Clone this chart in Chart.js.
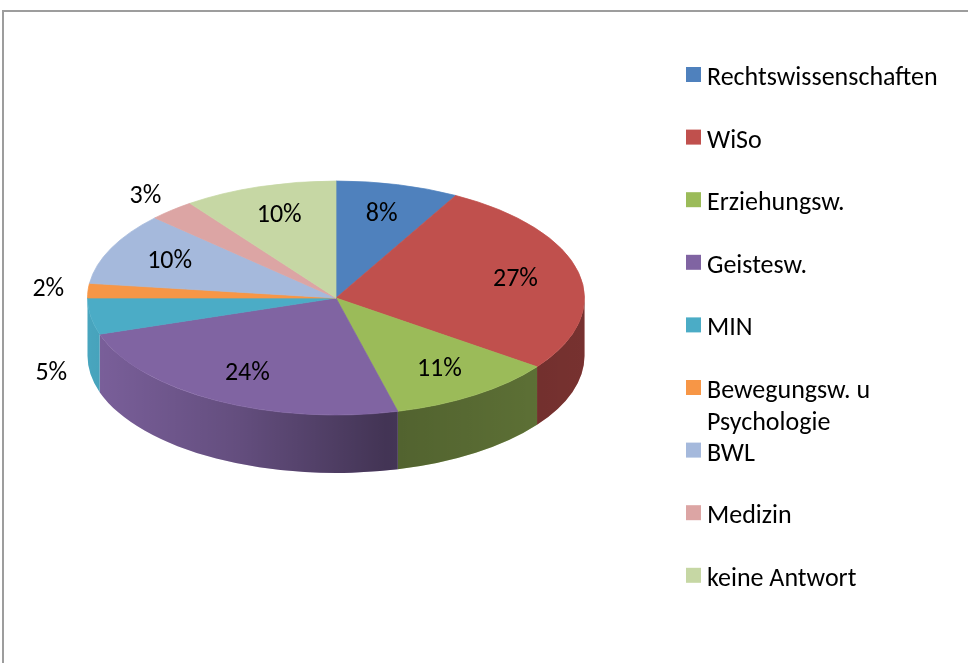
<!DOCTYPE html>
<html lang="de">
<head>
<meta charset="utf-8">
<title>Fakultäten</title>
<script src="https://cdn.jsdelivr.net/npm/chart.js@4/dist/chart.umd.min.js"></script>
<style>
  html, body { margin: 0; padding: 0; background: #fff; }
  canvas { display: block; }
</style>
</head>
<body>
<canvas id="faculty-chart" width="968" height="663"></canvas>
<script>
// Anteil der Befragten je Fakultät (in %)
const faculties = ['Rechtswissenschaften', 'WiSo', 'Erziehungsw.', 'Geistesw.', 'MIN',
    'Bewegungsw. u Psychologie', 'BWL', 'Medizin', 'keine Antwort'];
const shares = [8, 27, 11, 24, 5, 2, 10, 3, 10];
const sliceColors = ['#4f81bd', '#c0504d', '#9bbb59', '#8064a2', '#4bacc6',
    '#f79646', '#a5b9dc', '#dca5a4', '#c6d7a4'];

const FONT = '"Carlito", "Lato", sans-serif';

// Draws the pie as a tilted disc: side wall below, squashed top face, labels on top
const pie3d = {
    id: 'pie3d',
    beforeDraw(chart, args, opts) {
        const ctx = chart.ctx;
        ctx.save();
        ctx.strokeStyle = '#9d9d9d';
        ctx.lineWidth = 2;
        ctx.strokeRect(3, 11, 1000, 700);
        ctx.restore();
    },
    beforeDatasetsDraw(chart, args, opts) {
        const ctx = chart.ctx;
        const arcs = chart.getDatasetMeta(0).data;
        const cx = arcs[0].x;
        const r = arcs[0].outerRadius;
        const cy = opts.centerY, ry = opts.radiusY, depth = opts.depth;

        // front side wall, only the half that faces the viewer
        arcs.forEach(function(arc, i) {
            const a1 = Math.max(arc.startAngle, 0);
            const a2 = Math.min(arc.endAngle, Math.PI);
            if (a1 >= a2) return;
            ctx.beginPath();
            ctx.ellipse(cx, cy, r, ry, 0, a1, a2, false);
            ctx.lineTo(cx + r * Math.cos(a2), cy + ry * Math.sin(a2) + depth);
            ctx.ellipse(cx, cy + depth, r, ry, 0, a2, a1, true);
            ctx.closePath();
            ctx.fillStyle = sliceColors[i];
            ctx.fill();
            const shade = ctx.createLinearGradient(cx - r, 0, cx + r, 0);
            shade.addColorStop(0, 'rgba(0,0,0,0.04)');
            shade.addColorStop(0.3, 'rgba(0,0,0,0.22)');
            shade.addColorStop(0.6, 'rgba(0,0,0,0.48)');
            shade.addColorStop(1, 'rgba(0,0,0,0.38)');
            ctx.fillStyle = shade;
            ctx.fill();
        });

        // squash the round pie into the top face ellipse
        ctx.save();
        ctx.translate(0, cy);
        ctx.scale(1, ry / r);
        ctx.translate(0, -arcs[0].y);
    },
    afterDatasetsDraw(chart, args, opts) {
        const ctx = chart.ctx;
        ctx.restore();

        const arcs = chart.getDatasetMeta(0).data;
        const cx = arcs[0].x;
        const r = arcs[0].outerRadius;
        const cy = opts.centerY, ry = opts.radiusY, depth = opts.depth;

        ctx.save();
        ctx.font = opts.fontSize + 'px ' + FONT;
        ctx.fillStyle = '#000';
        ctx.textAlign = 'center';
        ctx.textBaseline = 'middle';
        arcs.forEach(function(arc, i) {
            const mid = (arc.startAngle + arc.endAngle) / 2;
            const outside = shares[i] < 8;
            const f = outside ? 1.16 : 0.74;
            let x = cx + r * f * Math.cos(mid);
            let y = cy + ry * f * Math.sin(mid);
            if (outside && Math.sin(mid) > 0) {
                y += depth * Math.min(1, Math.sin(mid) * 6);
            }
            ctx.fillText(shares[i] + '%', x, y);
        });
        ctx.restore();
    },
    afterDraw(chart, args, opts) {
        // legend on the right, one row per faculty, long names wrapped
        const ctx = chart.ctx;
        const lg = opts.legend;
        ctx.save();
        ctx.font = opts.fontSize + 'px ' + FONT;
        ctx.textAlign = 'left';
        ctx.textBaseline = 'alphabetic';
        faculties.forEach(function(name, i) {
            const top = lg.top + i * lg.step;
            ctx.fillStyle = sliceColors[i];
            ctx.fillRect(lg.x, top, lg.box, lg.box);
            ctx.fillStyle = '#000';
            const lines = [];
            let line = '';
            name.split(' ').forEach(function(word) {
                const test = line ? line + ' ' + word : word;
                if (line && ctx.measureText(test).width > lg.maxWidth) {
                    lines.push(line);
                    line = word;
                } else {
                    line = test;
                }
            });
            lines.push(line);
            lines.forEach(function(l, j) {
                ctx.fillText(l, lg.x + lg.box + 6, top + lg.box + 3 + j * lg.lineHeight);
            });
        });
        ctx.restore();
    }
};

new Chart(document.getElementById('faculty-chart'), {
    type: 'pie',
    data: {
        labels: faculties,
        datasets: [{
            data: shares,
            backgroundColor: sliceColors,
            borderColor: sliceColors,
            borderWidth: 1,
            clip: false
        }]
    },
    options: {
        responsive: false,
        animation: false,
        events: [],
        layout: {
            padding: { left: 87, right: 383, top: 0, bottom: 0 }
        },
        plugins: {
            legend: { display: false },
            tooltip: { enabled: false },
            pie3d: {
                centerY: 298,
                radiusY: 117,
                depth: 58,
                fontSize: 26,
                legend: { x: 686, top: 67, step: 62.6, box: 15, maxWidth: 250, lineHeight: 32 }
            }
        }
    },
    plugins: [pie3d]
});
</script>
</body>
</html>
